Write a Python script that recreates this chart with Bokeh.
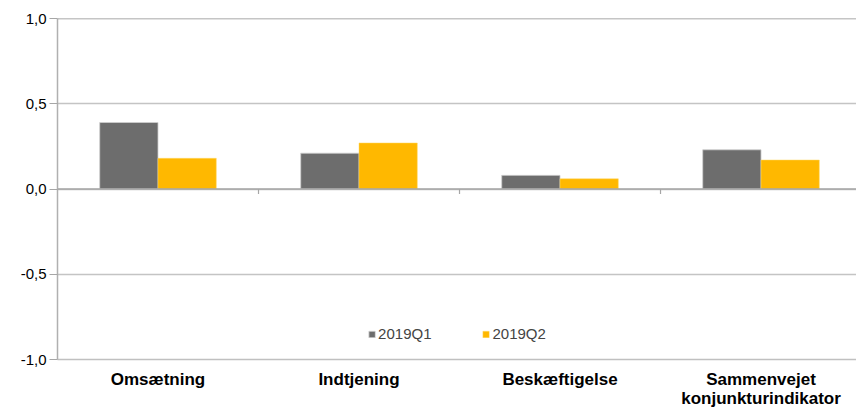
from bokeh.plotting import figure
from bokeh.models import FixedTicker, Range1d, Span, Legend, LegendItem, ColumnDataSource
from bokeh.embed import file_html
from bokeh.resources import INLINE

categories = ["Omsætning", "Indtjening", "Beskæftigelse", "Sammenvejet\nkonjunkturindikator"]
series_names = ["2019Q1", "2019Q2"]
q1 = [0.39, 0.21, 0.08, 0.23]
q2 = [0.18, 0.27, 0.06, 0.17]
y_ticks = [-1.0, -0.5, 0.0, 0.5, 1.0]
y_tick_labels = ["-1,0", "-0,5", "0,0", "0,5", "1,0"]
colors = ["#6d6d6d", "#ffb800"]

FONT = "Liberation Sans"
n = len(categories)
bar_w = 0.29

p = figure(width=856, height=411, output_backend="svg", toolbar_location=None,
           x_range=Range1d(0, 3.975), y_range=Range1d(y_ticks[0], y_ticks[-1]),
           min_border_left=57, min_border_right=0, min_border_top=18, min_border_bottom=52)
p.outline_line_color = None
p.background_fill_color = "white"

centers = [i + 0.5 for i in range(n)]
src1 = ColumnDataSource(dict(x=[c - bar_w / 2 for c in centers], top=q1))
src2 = ColumnDataSource(dict(x=[c + bar_w / 2 for c in centers], top=q2))
r1 = p.vbar(x="x", top="top", bottom=0, width=bar_w, source=src1,
            fill_color=colors[0], line_color="#cfcfcf", line_width=0.8)
r2 = p.vbar(x="x", top="top", bottom=0, width=bar_w, source=src2,
            fill_color=colors[1], line_color="#ffd866", line_width=0.5)

# zero line and category boundary tick marks
p.add_layout(Span(location=0, dimension="width", line_color="#a6a6a6", line_width=1.5))
bounds = list(range(1, n))
p.segment(x0=bounds, x1=bounds, y0=[0] * len(bounds), y1=[-0.03] * len(bounds),
          line_color="#a6a6a6", line_width=1.2)
p.add_layout(Span(location=y_ticks[-1], dimension="width", line_color="#8c8c8c", line_width=1.5))

# y axis
p.yaxis.ticker = FixedTicker(ticks=y_ticks)
p.yaxis.major_label_overrides = {t: l for t, l in zip(y_ticks, y_tick_labels)}
p.yaxis.major_label_text_font = FONT
p.yaxis.major_label_text_font_size = "15px"
p.yaxis.major_label_text_color = "black"
p.yaxis.axis_line_color = "#b0b0b0"
p.yaxis.axis_line_width = 1.5
p.yaxis.major_tick_line_color = "#a6a6a6"
p.yaxis.major_tick_out = 8
p.yaxis.major_tick_in = 0
p.yaxis.minor_tick_line_color = None
p.yaxis.major_label_standoff = 3

# x axis
p.xaxis.ticker = FixedTicker(ticks=centers)
p.xaxis.major_label_overrides = {c: name for c, name in zip(centers, categories)}
p.xaxis.major_label_text_font = FONT
p.xaxis.major_label_text_font_size = "17px"
p.xaxis.major_label_text_font_style = "bold"
p.xaxis.major_label_text_line_height = 1.05
p.xaxis.major_label_text_color = "black"
p.xaxis.axis_line_color = "#c0c0c0"
p.xaxis.axis_line_width = 1.5
p.xaxis.major_tick_line_color = None
p.xaxis.minor_tick_line_color = None
p.xaxis.major_tick_out = 0
p.xaxis.major_tick_in = 0
p.xaxis.major_label_standoff = 10

p.xgrid.grid_line_color = None
p.ygrid.ticker = FixedTicker(ticks=y_ticks)
p.ygrid.grid_line_color = "#c4c4c4"
p.ygrid.grid_line_width = 1.5

legend = Legend(items=[LegendItem(label=series_names[0], renderers=[r1]),
                       LegendItem(label=series_names[1], renderers=[r2])],
                orientation="horizontal", location="bottom_center")
legend.background_fill_alpha = 0
legend.border_line_color = None
legend.label_text_font = FONT
legend.label_text_font_size = "15px"
legend.glyph_width = 8
legend.glyph_height = 8
legend.label_standoff = 3
legend.spacing = 50
legend.margin = 17
legend.padding = 0
p.add_layout(legend)

open("out.html", "w").write(file_html(p, INLINE))
